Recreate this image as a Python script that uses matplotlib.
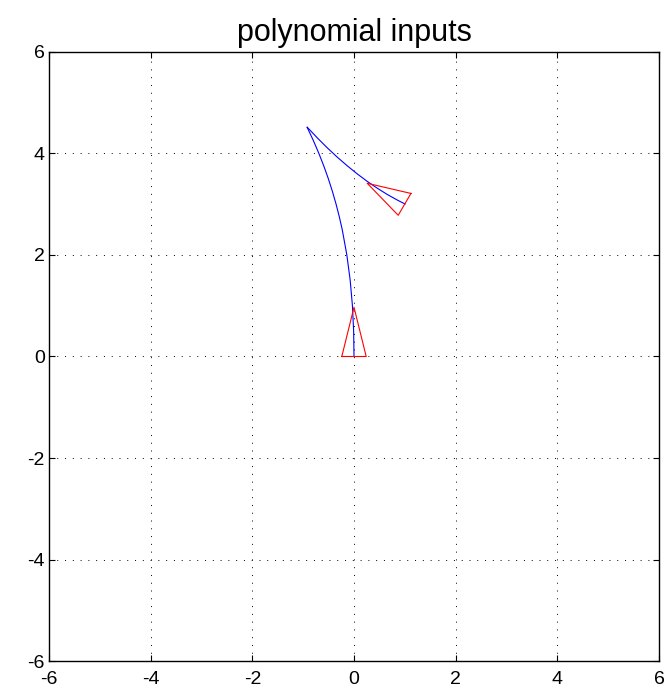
import matplotlib
matplotlib.use("Agg")
import matplotlib.pyplot as plt

plt.rcParams['font.family'] = ['Liberation Sans', 'DejaVu Sans']

# forward segment of the path (start pose -> cusp)
path1_x = [0.0, -0.007, -0.031, -0.075, -0.141, -0.232, -0.289, -0.353, -0.425,
           -0.505, -0.594, -0.692, -0.799, -0.922]
path1_y = [0.0, 0.5, 1.0, 1.5, 2.0, 2.5, 2.75, 3.0, 3.25, 3.5, 3.75, 4.0, 4.25, 4.512]
# reverse segment of the path (cusp -> end pose)
path2_x = [-0.919, -0.722, -0.526, -0.329, -0.132, 0.065, 0.262, 0.459, 0.656, 0.853, 1.004]
path2_y = [4.512, 4.304, 4.108, 3.924, 3.753, 3.594, 3.446, 3.312, 3.189, 3.079, 3.002]

# robot triangles (start and end poses)
tri_start_x = [-0.24, 0.24, 0.0, -0.24]
tri_start_y = [0.0, 0.0, 0.97, 0.0]
tri_end_x = [1.12, 0.87, 0.26, 1.12]
tri_end_y = [3.21, 2.78, 3.41, 3.21]

ticks = [-6, -4, -2, 0, 2, 4, 6]
tick_labels = ['-6', '-4', '-2', '0', '2', '4', '6']
title = 'polynomial inputs'

fig = plt.figure(figsize=(6.68, 6.91), dpi=100)
ax = fig.add_axes([49/668, 1-661.3/691, 610/668, 609.6/691])

ax.plot(path1_x, path1_y, color=(0, 0, 1), lw=0.8)
ax.plot(path2_x, path2_y, color=(0, 0, 1), lw=0.8)
ax.plot(tri_start_x, tri_start_y, color=(1, 0, 0), lw=0.8)
ax.plot(tri_end_x, tri_end_y, color=(1, 0, 0), lw=0.8)

ax.set_xlim(-6, 6)
ax.set_ylim(-6, 6)
ax.set_xticks(ticks)
ax.set_yticks(ticks)
ax.set_xticklabels(tick_labels)
ax.set_yticklabels(tick_labels)
ax.tick_params(direction='in', length=4, width=0.8, top=True, right=True,
               labelsize=14, pad=3, colors='black')
ax.tick_params(axis='x', pad=7)
ax.grid(True, color='black', linestyle=(0, (1, 7)), linewidth=0.7)
for s in ax.spines.values():
    s.set_linewidth(1.0)
    s.set_color('black')
ax.set_title(title, fontsize=22, pad=8)

fig.savefig('out.png', dpi=100)
